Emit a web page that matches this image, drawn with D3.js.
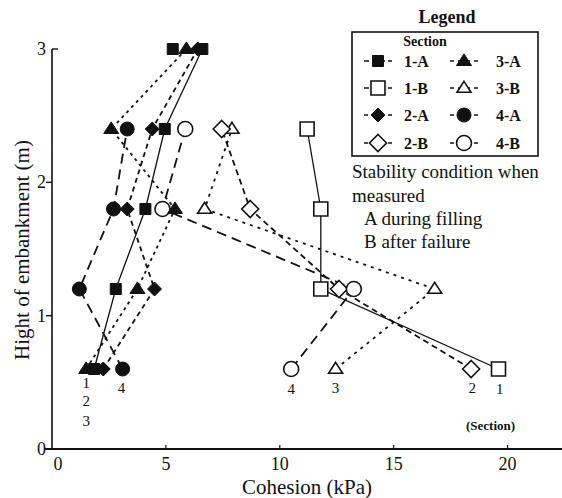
<!DOCTYPE html>
<html lang="en">
<head>
<meta charset="utf-8">
<title>Cohesion vs height of embankment</title>
<script src="https://cdn.jsdelivr.net/npm/d3@7"></script>
<style>
  body { margin: 0; background: #fff; }
  text { font-family: "Liberation Serif", "Times New Roman", "DejaVu Serif", serif; fill: #111; }
  .tick-label { font-size: 18px; }
  .axis-title { font-size: 21px; text-anchor: middle; }
  .legend-text { font-size: 16px; font-weight: bold; }
  .note { font-size: 19px; }
  .sec-label { font-size: 15px; text-anchor: middle; }
</style>
</head>
<body>
<div id="chart"></div>
<script>
  // heights of the sampling levels (m)
  var heights = [0.6, 1.2, 1.8, 2.4, 3.0];

  // cohesion (kPa) per section, same order as heights (null = no sample)
  var c1A = [1.85, 2.8, 4.1, 4.95, 6.6];
  var c1B = [19.6, 11.8, 11.8, 11.2, null];
  var c2A = [2.25, 4.5, 3.3, 4.4, 6.4];
  var c2B = [18.4, 12.6, 8.7, 7.45, null];
  var c3A = [1.5, 3.75, 5.4, 2.6, 5.9];
  var c3B = [12.45, 16.8, 6.7, 7.9, null];
  var c4A = [3.1, 1.2, 2.7, 3.3, null];
  var c4B = [10.5, 13.25, 4.85, 5.85, null];

  // one extra filled square at the top of the plot
  var extraMarks = [{c: 5.3, h: 3.0}];

  var seriesNames = ["3-B", "2-B", "4-B", "1-B", "4-A", "3-A", "2-A", "1-A"];
  var seriesValues = [c3B, c2B, c4B, c1B, c4A, c3A, c2A, c1A];
  var seriesShapes = ["triangle", "diamond", "circle", "square", "circle", "triangle", "diamond", "square"];
  var seriesFilled = [false, false, false, false, true, true, true, true];
  var seriesDash = ["3,5", "6,4", "10,6", null, "10,6", "3,4", "5,4", null];

  var xTicks = [0, 5, 10, 15, 20];
  var yTicks = [0, 1, 2, 3];

  // section numbers written under the lowest points
  var sectionLabels = [
    {text: "1", c: 1.5, h: 0.46}, {text: "2", c: 1.5, h: 0.32}, {text: "3", c: 1.5, h: 0.17},
    {text: "4", c: 3.05, h: 0.42},
    {text: "4", c: 10.5, h: 0.41}, {text: "3", c: 12.45, h: 0.42},
    {text: "2", c: 18.45, h: 0.42}, {text: "1", c: 19.65, h: 0.41}
  ];

  var legendLeft = ["1-A", "1-B", "2-A", "2-B"];
  var legendRight = ["3-A", "3-B", "4-A", "4-B"];

  var W = 562, H = 498;

  var svg = d3.select("#chart").append("svg")
      .attr("width", W).attr("height", H);

  var x = d3.scaleLinear().domain([0, 22.3]).range([52, 560]);
  var y = d3.scaleLinear().domain([0, 3]).range([449, 49]);

  // half sizes of the marker shapes
  function symbolPath(shape, filled) {
    var r;
    if (shape === "square") {
      r = filled ? 5.5 : 7;
      return "M" + -r + "," + -r + "H" + r + "V" + r + "H" + -r + "Z";
    }
    if (shape === "diamond") {
      r = filled ? 7 : 8.5;
      return "M0," + -r + "L" + r + ",0L0," + r + "L" + -r + ",0Z";
    }
    if (shape === "triangle") {
      r = filled ? 7.5 : 7;
      return "M0," + (-r * 0.95) + "L" + r + "," + (r * 0.6) + "L" + -r + "," + (r * 0.6) + "Z";
    }
    r = filled ? 7 : 7.5;
    return "M" + r + ",0A" + r + "," + r + " 0 1,1 " + -r + ",0A" + r + "," + r + " 0 1,1 " + r + ",0Z";
  }

  function drawMarker(g, shape, filled, px, py) {
    g.append("path")
      .attr("d", symbolPath(shape, filled))
      .attr("transform", "translate(" + px + "," + py + ")")
      .attr("fill", filled ? "#111" : "#fff")
      .attr("stroke", "#111")
      .attr("stroke-width", filled ? 1 : 1.6);
  }

  // axes
  var axes = svg.append("g");
  axes.append("line").attr("x1", x(0)).attr("x2", x(0)).attr("y1", y(0)).attr("y2", y(3))
      .attr("stroke", "#111").attr("stroke-width", 1.6);
  axes.append("line").attr("x1", 45).attr("x2", W).attr("y1", y(0)).attr("y2", y(0))
      .attr("stroke", "#111").attr("stroke-width", 2.2);
  axes.append("line").attr("x1", x(0)).attr("x2", x(0) + 6).attr("y1", y(3)).attr("y2", y(3))
      .attr("stroke", "#111").attr("stroke-width", 1.4);
  yTicks.filter(function(d) { return d > 0 && d < 3; }).forEach(function(d) {
    axes.append("line").attr("x1", x(0) - 6).attr("x2", x(0)).attr("y1", y(d)).attr("y2", y(d))
        .attr("stroke", "#111").attr("stroke-width", 1.4);
  });
  xTicks.filter(function(d) { return d > 0; }).forEach(function(d) {
    axes.append("line").attr("x1", x(d)).attr("x2", x(d)).attr("y1", y(0) - 4).attr("y2", y(0))
        .attr("stroke", "#111").attr("stroke-width", 1.2);
  });
  axes.selectAll("text.ylab").data(yTicks).enter().append("text")
      .attr("class", "tick-label")
      .attr("x", x(0) - 6).attr("y", function(d) { return y(d) + 6; })
      .attr("text-anchor", "end")
      .text(function(d) { return d; });
  axes.selectAll("text.xlab").data(xTicks).enter().append("text")
      .attr("class", "tick-label")
      .attr("x", function(d) { return d === 0 ? x(d) + 6 : x(d); })
      .attr("y", y(0) + 21)
      .attr("text-anchor", "middle")
      .text(function(d) { return d; });

  svg.append("text").attr("class", "axis-title")
      .attr("x", 307).attr("y", 494).text("Cohesion (kPa)");
  svg.append("text").attr("class", "axis-title")
      .attr("transform", "translate(29,250) rotate(-90)")
      .text("Hight of embankment (m)");

  // lines then markers
  var plot = svg.append("g");
  var line = d3.line()
      .defined(function(d) { return d.c !== null; })
      .x(function(d) { return x(d.c); })
      .y(function(d) { return y(d.h); });

  seriesValues.forEach(function(vals, i) {
    var pts = vals.map(function(v, j) { return {c: v, h: heights[j]}; });
    plot.append("path")
      .datum(pts)
      .attr("d", line)
      .attr("fill", "none")
      .attr("stroke", "#111")
      .attr("stroke-width", seriesDash[i] ? 1.8 : 1.3)
      .attr("stroke-dasharray", seriesDash[i]);
  });
  seriesValues.forEach(function(vals, i) {
    vals.forEach(function(v, j) {
      if (v === null) return;
      drawMarker(plot, seriesShapes[i], seriesFilled[i], x(v), y(heights[j]));
    });
  });
  extraMarks.forEach(function(d) {
    drawMarker(plot, "square", true, x(d.c), y(d.h));
  });

  plot.selectAll("text.sec").data(sectionLabels).enter().append("text")
      .attr("class", "sec-label")
      .attr("x", function(d) { return x(d.c); })
      .attr("y", function(d) { return y(d.h); })
      .text(function(d) { return d.text; });
  plot.append("text").attr("class", "sec-label").style("font-size", "13px")
      .style("font-weight", "bold")
      .attr("x", x(19.25)).attr("y", 430).text("(Section)");

  // legend
  var lg = svg.append("g");
  lg.append("rect").attr("x", 352).attr("y", 32).attr("width", 186).attr("height", 124)
      .attr("fill", "#fff").attr("stroke", "#111").attr("stroke-width", 1.6);
  lg.append("text").attr("class", "legend-text").style("font-size", "18px")
      .attr("x", 447).attr("y", 23).attr("text-anchor", "middle").text("Legend");
  lg.append("text").attr("class", "legend-text").style("font-size", "14px")
      .attr("x", 425).attr("y", 46).attr("text-anchor", "middle").text("Section");

  function legendRow(name, cx, tx, ry) {
    var i = seriesNames.indexOf(name);
    lg.append("line").attr("x1", cx - 14).attr("x2", cx + 14).attr("y1", ry).attr("y2", ry)
      .attr("stroke", "#111").attr("stroke-width", 1.6)
      .attr("stroke-dasharray", seriesDash[i] ? "4,4" : "5,3");
    drawMarker(lg, seriesShapes[i], seriesFilled[i], cx, ry);
    lg.append("text").attr("class", "legend-text").attr("x", tx).attr("y", ry + 6).text(name);
  }
  var rowY = [61, 88, 115, 143];
  legendLeft.forEach(function(n, k) { legendRow(n, 378, 404, rowY[k]); });
  legendRight.forEach(function(n, k) { legendRow(n, 464, 496, rowY[k]); });

  var notes = [
    {t: "Stability condition when", x: 352, y: 178},
    {t: "measured", x: 352, y: 202},
    {t: "A during filling", x: 364, y: 225},
    {t: "B after failure", x: 364, y: 248}
  ];
  svg.selectAll("text.note").data(notes).enter().append("text")
      .attr("class", "note")
      .attr("x", function(d) { return d.x; }).attr("y", function(d) { return d.y; })
      .text(function(d) { return d.t; });
</script>
</body>
</html>
